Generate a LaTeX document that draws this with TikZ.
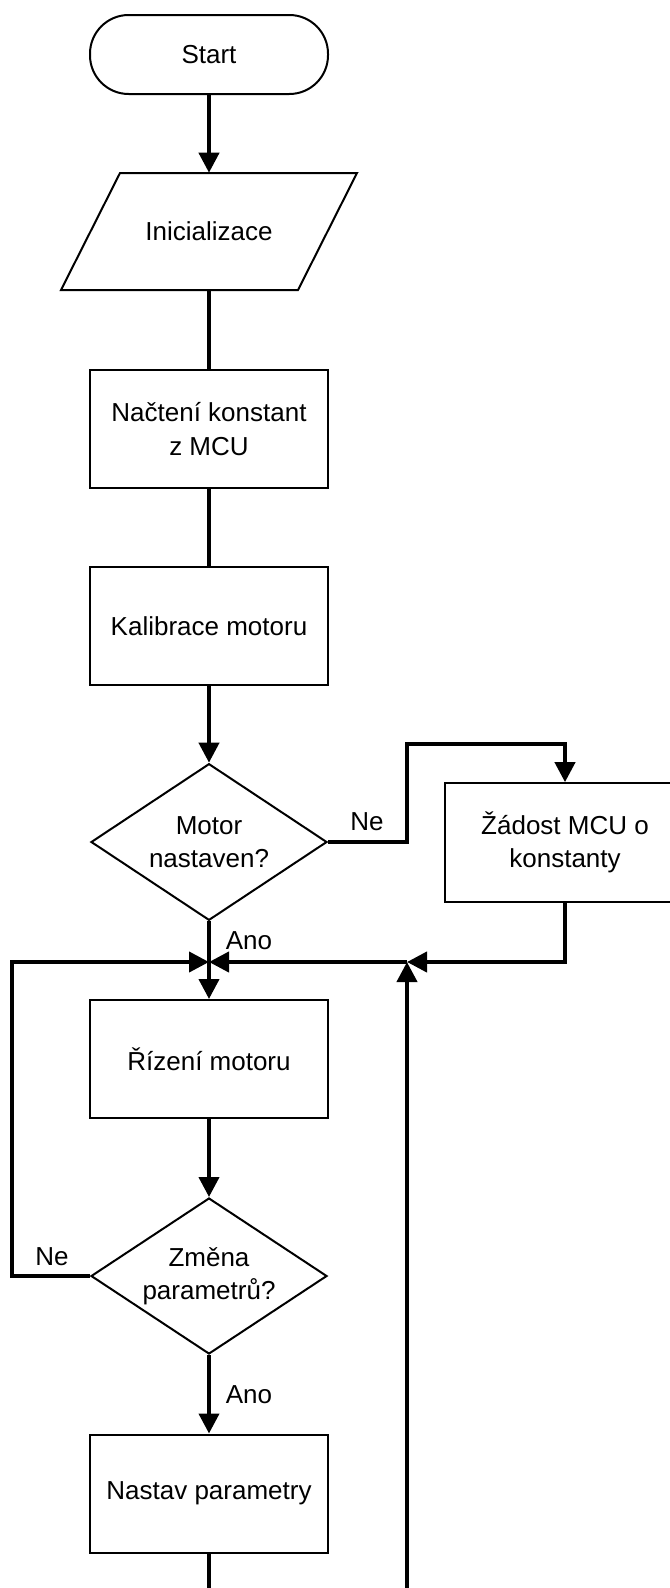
\documentclass[tikz,border=0pt]{standalone}
\usepackage{fontspec}
\setmainfont{Liberation Sans}
\usetikzlibrary{arrows.meta,shapes.geometric}

\begin{document}
\begin{tikzpicture}[x=0.75pt,y=-0.75pt,
  font=\fontsize{19.5}{25}\selectfont,
  flow/.style={line width=3pt},
  arr/.style={flow,-{Triangle[length=15pt,width=15pt]}},
  outline/.style={draw,line width=1.5pt},
  term/.style={outline,rectangle,rounded corners=29pt,minimum width=178.5pt,minimum height=59.25pt,inner sep=0pt},
  iobox/.style={rectangle,minimum width=178pt,minimum height=87.75pt,inner sep=0pt},
  box/.style={outline,rectangle,minimum width=178.5pt,minimum height=88.5pt,align=center,inner sep=0pt},
  decision/.style={outline,diamond,aspect=1.6,minimum width=177pt,minimum height=117.5pt,align=center,inner sep=0pt},
  lbl/.style={inner sep=0pt}
]
\useasboundingbox (0,0) rectangle (670,1588);

% main column
\node[term] (start) at (209,54.5) {Start};
\node[iobox] (init) at (209,231.5) {Inicializace};
\draw[line width=1.5pt] (120,173) -- (357,173) -- (298,290) -- (61,290) -- cycle;
\node[box] (load) at (209,429) {Načtení konstant\\z MCU};
\node[box] (calib) at (209,626) {Kalibrace motoru};
\node[decision] (dec1) at (209,842) {Motor\\nastaven?};
\node[box,minimum width=180pt,minimum height=89pt] (req) at (565,842.5) {Žádost MCU o\\konstanty};
\node[box] (ctrl) at (209,1059) {Řízení motoru};
\node[decision,minimum height=117pt] (dec2) at (209,1276) {Změna\\parametrů?};
\node[box] (setp) at (209,1493.5) {Nastav parametry};

% routing points
\coordinate (nb) at (407,744);
\coordinate (j1) at (209,962);
\coordinate (j2) at (407,962);
\coordinate (lb) at (12,962);
\coordinate (bot1) at (209,1592);
\coordinate (bot2) at (407,1592);

% connectors
\draw[arr] (start.south) -- (init.north);
\draw[flow] (init.south) -- (load.north);
\draw[flow] (load.south) -- (calib.north);
\draw[arr] (calib.south) -- (dec1.north);
\draw[arr] (dec1.east) -| (nb) -| (req.north);
\draw[arr] (req.south) |- (j2);
\draw[arr] (bot2) -- (j2);
\draw[arr] (j2) -- (j1);
\draw[arr] (dec2.west) -| (lb) -- (j1);
\draw[arr] (dec1.south) -- (ctrl.north);
\draw[arr] (ctrl.south) -- (dec2.north);
\draw[arr] (dec2.south) -- (setp.north);
\draw[flow] (setp.south) -- (bot1);

% branch labels
\node[lbl] (ne1) at (367,822) {Ne};
\node[lbl] (ano1) at (249,941) {Ano};
\node[lbl] (ne2) at (52,1257) {Ne};
\node[lbl] (ano2) at (249,1395) {Ano};
\end{tikzpicture}
\end{document}
